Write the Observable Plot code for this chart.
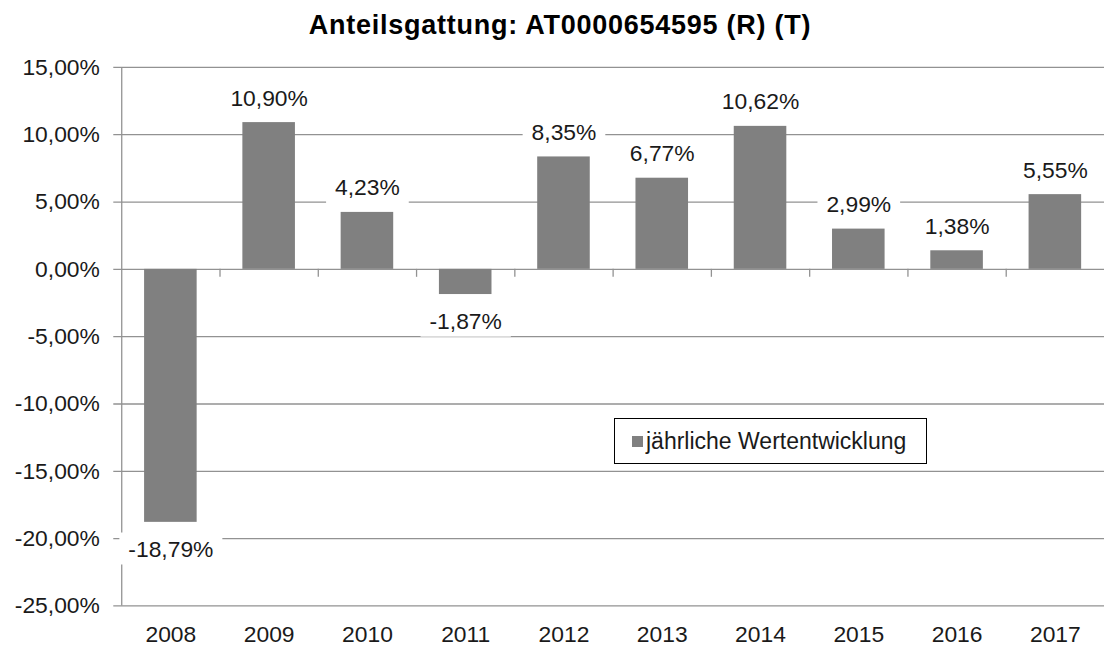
<!DOCTYPE html>
<html>
<head>
<meta charset="utf-8">
<script src="https://cdn.jsdelivr.net/npm/d3@7"></script>
<script src="https://cdn.jsdelivr.net/npm/@observablehq/plot@0.6"></script>
<style>
html, body { margin: 0; padding: 0; background: #fff; overflow: hidden; width: 1104px; height: 650px; }
#wrap { position: relative; width: 1104px; height: 650px; overflow: hidden; }
#title { height: 50px; box-sizing: border-box; padding-top: 5px; padding-left: 16px; text-align: center;
  font-family: "Liberation Sans", Arial, sans-serif; font-weight: bold; font-size: 27px; line-height: 40px;
  letter-spacing: 0.75px; color: #000; white-space: nowrap; }
#legend { position: absolute; left: 614px; top: 418px; width: 313px; height: 46px; box-sizing: border-box;
  border: 1px solid #000; background: #fff; display: flex; align-items: center; padding-left: 17px;
  font-family: "Liberation Sans", Arial, sans-serif; font-size: 23px; color: #1a1a1a; white-space: nowrap; }
#legend .sw { width: 11px; height: 11px; background: #808080; margin-right: 3px; flex: none; }
</style>
</head>
<body>
<div id="wrap">
  <div id="title"></div>
  <div id="chart"></div>
  <div id="legend"><span class="sw"></span><span id="legtext"></span></div>
</div>
<script>
const titleText = "Anteilsgattung: AT0000654595 (R) (T)";
const legendLabel = "jährliche Wertentwicklung";
const years = [2008, 2009, 2010, 2011, 2012, 2013, 2014, 2015, 2016, 2017];
const values = [-18.79, 10.90, 4.23, -1.87, 8.35, 6.77, 10.62, 2.99, 1.38, 5.55];
const yTicks = [15, 10, 5, 0, -5, -10, -15, -20, -25];

document.getElementById("title").textContent = titleText;
document.getElementById("legtext").textContent = legendLabel;

const data = years.map((year, i) => ({year, value: values[i]}));
const fmt = v => v.toFixed(2).replace(".", ",") + "%";
const xDomain = [years[0] - 0.5, years[years.length - 1] + 0.5];
const boundaries = years.slice(1).map(y => y - 0.5);
const gridColor = "#929292";
const barColor = "#808080";

const plot = Plot.plot({
  width: 1111,
  height: 600,
  marginTop: 17,
  marginBottom: 41,
  marginLeft: 122,
  marginRight: 0,
  style: {fontFamily: '"Liberation Sans", Arial, sans-serif', fontSize: "23px", color: "#1a1a1a", background: "white", overflow: "visible"},
  x: {domain: xDomain, ticks: years, tickFormat: d => String(d), tickSize: 0, tickPadding: 20, label: null},
  y: {domain: [d3.min(yTicks), d3.max(yTicks)], ticks: yTicks, tickFormat: fmt, tickSize: 0, tickPadding: 22, label: null},
  marks: [
    Plot.ruleY(yTicks, {stroke: gridColor, strokeWidth: 1.3, insetLeft: -8}),
    Plot.ruleX([xDomain[0]], {y1: d3.min(yTicks), y2: d3.max(yTicks), stroke: gridColor, strokeWidth: 1.3}),
    Plot.ruleX(boundaries, {y1: 0, y2: 0, insetBottom: -8, stroke: gridColor, strokeWidth: 1.3}),
    Plot.rectY(data, {x1: d => d.year - 0.5, x2: d => d.year + 0.5, y1: 0, y2: "value", fill: barColor, insetLeft: 23, insetRight: 23}),
    Plot.text(data.filter(d => d.value >= 0), {x: "year", y: "value", text: d => fmt(d.value), dy: -24.5, fill: "#1a1a1a"}),
    Plot.text(data.filter(d => d.value < 0), {x: "year", y: "value", text: d => fmt(d.value), dy: 27, fill: "#1a1a1a"})
  ]
});
document.getElementById("chart").append(plot);

// white label boxes behind data labels (hide gridlines like the original)
plot.querySelectorAll('g[aria-label="text"] text').forEach(t => {
  const b = t.getBBox();
  const r = document.createElementNS("http://www.w3.org/2000/svg", "rect");
  r.setAttribute("x", b.x - 9);
  r.setAttribute("y", b.y - 3);
  r.setAttribute("width", b.width + 18);
  r.setAttribute("height", b.height + 6);
  r.setAttribute("fill", "white");
  if (t.getAttribute("transform")) r.setAttribute("transform", t.getAttribute("transform"));
  t.parentNode.insertBefore(r, t);
});
</script>
</body>
</html>
